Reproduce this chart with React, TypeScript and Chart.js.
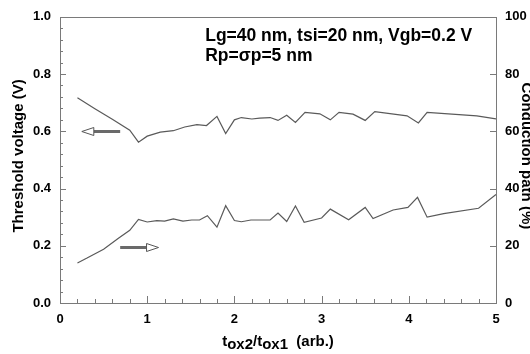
import React, { useEffect, useRef } from "react";
import { Chart, registerables } from "chart.js";

Chart.register(...registerables);

// ---- data ----
const vthX = [0.2, 0.4, 0.6, 0.8, 0.9, 1.0, 1.15, 1.3, 1.43, 1.57, 1.68, 1.8, 1.9, 2.0, 2.08, 2.2, 2.29, 2.41, 2.5, 2.6, 2.7, 2.81, 2.98, 3.1, 3.2, 3.36, 3.5, 3.61, 3.98, 4.11, 4.21, 4.78, 5.0];
const vth = [0.717, 0.679, 0.642, 0.604, 0.562, 0.583, 0.597, 0.602, 0.615, 0.623, 0.620, 0.652, 0.592, 0.640, 0.648, 0.643, 0.646, 0.648, 0.638, 0.656, 0.631, 0.666, 0.661, 0.640, 0.666, 0.660, 0.638, 0.669, 0.654, 0.629, 0.666, 0.654, 0.643];
const cpX = [0.2, 0.31, 0.5, 0.67, 0.8, 0.9, 1.0, 1.11, 1.2, 1.3, 1.41, 1.51, 1.6, 1.69, 1.8, 1.9, 2.0, 2.08, 2.19, 2.41, 2.5, 2.6, 2.7, 2.8, 3.0, 3.1, 3.31, 3.5, 3.59, 3.82, 3.99, 4.1, 4.21, 4.4, 4.8, 5.0];
const cp = [14.0, 15.7, 18.8, 22.6, 25.4, 29.2, 28.3, 28.8, 28.6, 29.4, 28.6, 29.0, 29.0, 30.5, 26.5, 34.0, 28.8, 28.4, 29.0, 29.0, 31.4, 28.5, 33.9, 28.2, 29.7, 32.8, 29.1, 33.4, 29.5, 32.5, 33.4, 36.9, 30.0, 31.2, 33.1, 37.9];

const xTicks = [0, 1, 2, 3, 4, 5];
const leftTicks = [0, 0.2, 0.4, 0.6, 0.8, 1.0];
const rightTicks = [0, 20, 40, 60, 80, 100];

const annotLines = ["Lg=40 nm, tsi=20 nm, Vgb=0.2 V", "Rp=\u03c3p=5 nm"];
const leftTitle = "Threshold voltage (V)";
const rightTitle = "Conduction path (%)";

const FONT = '"Liberation Sans", Arial, sans-serif';
const LINE = "#5a5a5a";
const FRAME = "#7a7a7a";

function drawArrow(ctx: CanvasRenderingContext2D, tipX: number, tailX: number, y: number) {
  const dir = tailX > tipX ? 1 : -1;
  const headLen = 12;
  const half = 4;
  const baseX = tipX + dir * headLen;
  ctx.save();
  ctx.strokeStyle = "#6a6a6a";
  ctx.lineWidth = 3;
  ctx.beginPath();
  ctx.moveTo(baseX, y);
  ctx.lineTo(tailX, y);
  ctx.stroke();
  ctx.fillStyle = "#ffffff";
  ctx.strokeStyle = "#555555";
  ctx.lineWidth = 1;
  ctx.beginPath();
  ctx.moveTo(tipX, y);
  ctx.lineTo(baseX, y - half);
  ctx.lineTo(baseX, y + half);
  ctx.closePath();
  ctx.fill();
  ctx.stroke();
  ctx.restore();
}

const decorPlugin = {
  id: "decor",
  afterDatasetsDraw(chart: any) {
    const ctx: CanvasRenderingContext2D = chart.ctx;
    const { left, right, top, bottom } = chart.chartArea;
    const xs = chart.scales.x;
    const yl = chart.scales.y;
    const yr = chart.scales.y1;
    ctx.save();
    // frame
    ctx.strokeStyle = FRAME;
    ctx.lineWidth = 1;
    ctx.strokeRect(Math.round(left) + 0.5, Math.round(top) + 0.5, Math.round(right - left), Math.round(bottom - top));
    // x ticks (inward)
    ctx.beginPath();
    for (let i = 0; i <= 25; i++) {
      const v = i * 0.2;
      const px = Math.round(xs.getPixelForValue(v)) + 0.5;
      const len = i % 5 === 0 ? 7 : 4;
      ctx.moveTo(px, bottom);
      ctx.lineTo(px, bottom - len);
    }
    // left ticks
    for (let i = 0; i <= 25; i++) {
      const v = i * 0.04;
      const py = Math.round(yl.getPixelForValue(v)) + 0.5;
      const len = i % 5 === 0 ? 6 : 3;
      ctx.moveTo(left, py);
      ctx.lineTo(left + len, py);
    }
    // right ticks
    for (const v of rightTicks) {
      const py = Math.round(yr.getPixelForValue(v)) + 0.5;
      ctx.moveTo(right, py);
      ctx.lineTo(right - 6, py);
    }
    ctx.stroke();

    // arrows
    drawArrow(ctx, xs.getPixelForValue(0.25), xs.getPixelForValue(0.69), Math.round(yl.getPixelForValue(0.601)) + 0.5);
    drawArrow(ctx, xs.getPixelForValue(1.13), xs.getPixelForValue(0.69), Math.round(yr.getPixelForValue(19.6)) + 0.5);

    // annotation text
    ctx.fillStyle = "#000";
    ctx.font = `bold 17.5px ${FONT}`;
    ctx.textAlign = "left";
    ctx.textBaseline = "alphabetic";
    const ax = xs.getPixelForValue(1.665);
    ctx.fillText(annotLines[0], ax, yl.getPixelForValue(0.914));
    ctx.fillText(annotLines[1], ax, yl.getPixelForValue(0.845));

    // left title
    ctx.font = `bold 15px ${FONT}`;
    ctx.save();
    ctx.translate(23, (top + bottom) / 2 - 4);
    ctx.rotate(-Math.PI / 2);
    ctx.textAlign = "center";
    ctx.textBaseline = "alphabetic";
    ctx.fillText(leftTitle, 0, 0);
    ctx.restore();

    // right title (partly clipped by canvas edge)
    ctx.save();
    ctx.translate(522, (top + bottom) / 2 - 4);
    ctx.rotate(Math.PI / 2);
    ctx.textAlign = "center";
    ctx.textBaseline = "alphabetic";
    ctx.fillText(rightTitle, 0, 0);
    ctx.restore();

    // x title with subscripts
    const parts: [string, boolean][] = [
      ["t", false], ["ox2", true], ["/t", false], ["ox1", true], ["  (arb.)", false],
    ];
    ctx.font = `bold 15px ${FONT}`;
    let total = 0;
    for (const [s] of parts) total += ctx.measureText(s).width;
    let cx = 278 - total / 2;
    const baseY = 346;
    ctx.textAlign = "left";
    for (const [s, sub] of parts) {
      ctx.fillText(s, cx, sub ? baseY + 3 : baseY);
      cx += ctx.measureText(s).width;
    }
    ctx.restore();
  },
};

export default function App() {
  const ref = useRef<HTMLCanvasElement | null>(null);
  useEffect(() => {
    if (!ref.current) return;
    const tickFont = { family: FONT, size: 13, weight: "bold" as const };
    const chart = new Chart(ref.current, {
      type: "line",
      data: {
        datasets: [
          {
            label: "Threshold voltage",
            data: vthX.map((x, i) => ({ x, y: vth[i] })),
            yAxisID: "y",
            borderColor: LINE,
            borderWidth: 1.2,
            pointRadius: 0,
            tension: 0,
            fill: false,
          },
          {
            label: "Conduction path",
            data: cpX.map((x, i) => ({ x, y: cp[i] })),
            yAxisID: "y1",
            borderColor: LINE,
            borderWidth: 1.2,
            pointRadius: 0,
            tension: 0,
            fill: false,
          },
        ],
      },
      options: {
        responsive: false,
        animation: false,
        layout: { padding: { top: 12, left: 0, right: 0, bottom: 0 } },
        plugins: { legend: { display: false }, tooltip: { enabled: false } },
        scales: {
          x: {
            type: "linear",
            min: 0,
            max: 5,
            afterFit: (s: any) => { s.height = 51; },
            afterBuildTicks: (s: any) => { s.ticks = xTicks.map((v) => ({ value: v })); },
            grid: { display: false, drawTicks: false },
            border: { display: false },
            ticks: { font: tickFont, color: "#000", padding: 9, autoSkip: false, maxRotation: 0, callback: (v: any) => String(v) },
          },
          y: {
            type: "linear",
            position: "left",
            min: 0,
            max: 1,
            afterFit: (s: any) => { s.width = 60; },
            afterBuildTicks: (s: any) => { s.ticks = leftTicks.map((v) => ({ value: v })); },
            grid: { display: false, drawTicks: false },
            border: { display: false },
            ticks: { font: tickFont, color: "#000", padding: 9, autoSkip: false, callback: (v: any) => Number(v).toFixed(1) },
          },
          y1: {
            type: "linear",
            position: "right",
            min: 0,
            max: 100,
            afterFit: (s: any) => { s.width = 34; },
            afterBuildTicks: (s: any) => { s.ticks = rightTicks.map((v) => ({ value: v })); },
            grid: { display: false, drawTicks: false },
            border: { display: false },
            ticks: { font: tickFont, color: "#000", padding: 9, autoSkip: false, callback: (v: any) => String(v) },
          },
        },
      },
      plugins: [decorPlugin],
    } as any);
    return () => chart.destroy();
  }, []);
  return (
    <div style={{ position: "fixed", left: 0, top: 0, width: 530, height: 354, overflow: "hidden", background: "#fff" }}>
      <canvas ref={ref} width={530} height={354} style={{ display: "block", width: 530, height: 354 }} />
    </div>
  );
}
